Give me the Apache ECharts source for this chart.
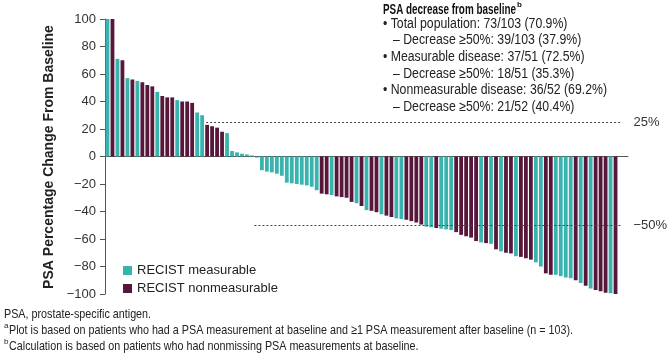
<!DOCTYPE html>
<html><head><meta charset="utf-8">
<script src="https://cdn.jsdelivr.net/npm/echarts@6/dist/echarts.min.js"></script>
<style>html,body{margin:0;padding:0;background:#fff}#c{width:671px;height:359px}</style>
</head><body><div id="c"></div><script>
// ---- data ----
const psaChange = [
  100, 100, 71, 70, 57, 56, 55, 54, 52, 51,
  47, 44, 43, 43, 41, 40, 40, 39, 32, 30,
  23, 22, 21, 18, 17, 4, 3, 2, 1.5, 0.8,
  -0.8, -10, -11, -11.5, -12.5, -14, -19, -19.5, -20, -20.5,
  -21, -22, -24.5, -27, -27.5, -28, -29, -29.5, -30, -33,
  -34, -36, -39, -39.5, -40.5, -42, -43, -44, -45, -45.5,
  -46, -47, -48, -49.5, -51, -51.5, -52, -52.5, -53, -53.5,
  -55, -57, -58, -59, -61.5, -62.5, -63, -63.5, -67.5, -69,
  -70, -70.5, -72.5, -73, -74, -75, -77, -80, -85, -86,
  -86, -87, -88, -88.5, -90, -92, -94, -96, -97, -98,
  -99, -99.5, -100
];
// M = RECIST measurable, N = RECIST nonmeasurable
const recistGroup = [
  'M','N','M','N','M','N','M','N','N','N',
  'M','N','N','N','M','N','N','N','M','M',
  'N','N','N','N','M','M','M','M','M','M',
  'M','M','M','M','M','M','M','M','M','M',
  'M','M','M','N','N','M','N','N','N','N',
  'M','N','M','N','N','M','N','N','M','M',
  'N','N','N','N','M','M','N','M','M','M',
  'N','N','N','N','N','M','N','M','N','M',
  'N','N','M','N','N','N','M','M','N','N',
  'M','M','M','M','N','M','N','M','N','N',
  'N','M','N'
];
const seriesNames = ['RECIST measurable', 'RECIST nonmeasurable'];
const groupCodes = ['M', 'N'];
const yMin = -100, yMax = 100, yStep = 20;
const refValues = [25, -50];
const refLabels = ['25%', '\u221250%'];
const refStart = [20.8, 30.5];
const yTitle = 'PSA Percentage Change From Baseline';
const summaryTitle = 'PSA decrease from baseline';
const summaryLines = [
  '\u2022 Total population: 73/103 (70.9%)',
  '\u2013 Decrease \u226550%: 39/103 (37.9%)',
  '\u2022 Measurable disease: 37/51 (72.5%)',
  '\u2013 Decrease \u226550%: 18/51 (35.3%)',
  '\u2022 Nonmeasurable disease: 36/52 (69.2%)',
  '\u2013 Decrease \u226550%: 21/52 (40.4%)'
];
const footnotes = [
  ['', 'PSA, prostate-specific antigen.'],
  ['a', 'Plot is based on patients who had a PSA measurement at baseline and \u22651 PSA measurement after baseline (n = 103).'],
  ['b', 'Calculation is based on patients who had nonmissing PSA measurements at baseline.']
];

// ---- styling ----
const colors = ['#38b3ad', '#58173a'];
const FONT = '"Liberation Sans", Arial, sans-serif';
const axisColor = '#555';
const textColor = '#222';

const mctx = document.createElement('canvas').getContext('2d');
function measure(text, size, weight) {
  mctx.font = (weight || 'normal') + ' ' + size + 'px "Liberation Sans"';
  return mctx.measureText(text).width;
}

const series = groupCodes.map((code, gi) => ({
  name: seriesNames[gi],
  type: 'bar',
  barWidth: 3.8,
  barGap: '-100%',
  itemStyle: { color: colors[gi] },
  data: psaChange.map((v, i) => recistGroup[i] === code ? [i + 1, v] : [i + 1, null])
}));
series[0].markLine = {
  silent: true,
  symbol: 'none',
  lineStyle: { type: [2, 2], color: '#444', width: 1 },
  label: { show: true, position: 'end', distance: 13, fontSize: 13, color: '#333', fontFamily: FONT },
  data: refValues.map((v, k) => [
    { coord: [refStart[k], v] },
    { coord: [104, v], label: { formatter: refLabels[k] } }
  ])
};

const graphics = [];
// y axis title
graphics.push({
  type: 'text', x: 49, y: 157, rotation: Math.PI / 2,
  style: { text: yTitle, fontSize: 14, fontWeight: 'bold', fontFamily: FONT, fill: textColor,
    align: 'center', verticalAlign: 'middle', textAlign: 'center', textVerticalAlign: 'middle' }
});
// summary block
const tW = measure(summaryTitle, 14, 'bold');
const tScale = 133 / tW;
graphics.push({
  type: 'text', x: 383, y: 10, scaleX: tScale,
  style: { text: summaryTitle, fontSize: 14, fontWeight: 'bold', fontFamily: FONT, fill: '#111',
    verticalAlign: 'middle', textVerticalAlign: 'middle' }
});
graphics.push({
  type: 'text', x: 383 + 133 + 1, y: 5,
  style: { text: 'b', fontSize: 8, fontWeight: 'bold', fontFamily: FONT, fill: '#111',
    verticalAlign: 'middle', textVerticalAlign: 'middle' }
});
const bScale = 224 / measure(summaryLines[4], 14);
summaryLines.forEach((s, k) => {
  graphics.push({
    type: 'text', x: s.charAt(0) === '\u2022' ? 383 : 393, y: 24 + k * 16.6, scaleX: bScale,
    style: { text: s, fontSize: 14, fontFamily: FONT, fill: textColor,
      verticalAlign: 'middle', textVerticalAlign: 'middle' }
  });
});
// footnotes
const fScale = 564 / measure(footnotes[1][1], 13);
footnotes.forEach((f, k) => {
  const y = 314 + k * 16;
  if (f[0]) {
    graphics.push({ type: 'text', x: 4, y: y - 4,
      style: { text: f[0], fontSize: 8, fontFamily: FONT, fill: textColor,
        verticalAlign: 'middle', textVerticalAlign: 'middle' } });
  }
  graphics.push({ type: 'text', x: f[0] ? 9 : 4, y: y, scaleX: fScale,
    style: { text: f[1], fontSize: 13, fontFamily: FONT, fill: textColor,
      verticalAlign: 'middle', textVerticalAlign: 'middle' } });
});

const chart = echarts.init(document.getElementById('c'), null, { renderer: 'canvas' });
chart.setOption({
  animation: false,
  backgroundColor: '#fff',
  grid: { left: 105, right: 43, top: 19, bottom: 65, containLabel: false },
  legend: {
    orient: 'vertical', left: 118, top: 259,
    itemWidth: 9, itemHeight: 9, itemGap: 5, icon: 'rect',
    textStyle: { fontSize: 13, color: textColor, fontFamily: FONT },
    data: seriesNames
  },
  xAxis: {
    type: 'value', min: 0.5, max: 105.5,
    axisLine: { show: true, onZero: true, lineStyle: { color: axisColor, width: 1 } },
    axisTick: { show: false }, axisLabel: { show: false }, splitLine: { show: false }
  },
  yAxis: {
    type: 'value', min: yMin, max: yMax, interval: yStep,
    axisLine: { show: true, lineStyle: { color: axisColor, width: 1 } },
    axisTick: { show: true, length: 5, lineStyle: { color: axisColor } },
    axisLabel: { fontSize: 13, color: '#333', fontFamily: FONT, margin: 9,
      formatter: v => (v < 0 ? '\u2212' + Math.abs(v) : String(v)) },
    splitLine: { show: false }
  },
  graphic: graphics,
  series: series
});
</script></body></html>
